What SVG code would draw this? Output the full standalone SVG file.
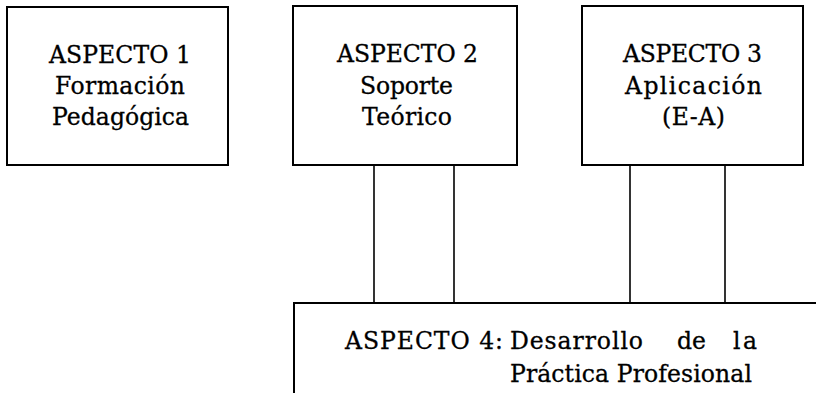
<svg xmlns="http://www.w3.org/2000/svg" width="816" height="393" viewBox="0 0 816 393">
<style>
.box{fill:#fff;stroke:#000;stroke-width:2}
.t{font-family:"DejaVu Serif","Liberation Serif",serif;font-size:23.5px;fill:#000;stroke:#000;stroke-width:0.3;text-anchor:middle}
.l{font-family:"DejaVu Serif","Liberation Serif",serif;font-size:23.5px;fill:#000;stroke:#000;stroke-width:0.3}
.c{stroke:#000;stroke-width:1.6;fill:none}
</style>
<rect width="816" height="393" fill="#fff"/>
<g id="connectors">
<line class="c" x1="374" y1="165" x2="374" y2="303"/>
<line class="c" x1="454" y1="165" x2="454" y2="303"/>
<line class="c" x1="630" y1="165" x2="630" y2="303"/>
<line class="c" x1="725" y1="165" x2="725" y2="303"/>
</g>
<g id="aspecto1">
<rect class="box" x="7" y="7" width="221" height="158"/>
<text class="t" x="120" y="63" textLength="142" lengthAdjust="spacing">ASPECTO 1</text>
<text class="t" x="120" y="94" textLength="130" lengthAdjust="spacing">Formación</text>
<text class="t" x="120.5" y="125" textLength="137" lengthAdjust="spacing">Pedagógica</text>
</g>
<g id="aspecto2">
<rect class="box" x="293" y="6" width="224" height="159"/>
<text class="t" x="407.5" y="62" textLength="141" lengthAdjust="spacing">ASPECTO 2</text>
<text class="t" x="406.5" y="94" textLength="93" lengthAdjust="spacing">Soporte</text>
<text class="t" x="407" y="125" textLength="90" lengthAdjust="spacing">Teórico</text>
</g>
<g id="aspecto3">
<rect class="box" x="582" y="6" width="221" height="159"/>
<text class="t" x="692.5" y="62" textLength="139" lengthAdjust="spacing">ASPECTO 3</text>
<text class="t" x="693.5" y="94" textLength="137" lengthAdjust="spacing">Aplicación</text>
<text class="t" x="693.5" y="125" textLength="63" lengthAdjust="spacing">(E-A)</text>
</g>
<g id="aspecto4">
<rect class="box" x="294" y="303" width="600" height="200"/>
<text class="l" x="345" y="349" textLength="158" lengthAdjust="spacing">ASPECTO 4:</text>
<text class="l" x="510" y="349" textLength="133" lengthAdjust="spacing">Desarrollo</text>
<text class="l" x="677" y="349" textLength="29" lengthAdjust="spacing">de</text>
<text class="l" x="733" y="349" textLength="24" lengthAdjust="spacing">la</text>
<text class="l" x="510" y="382" textLength="242" lengthAdjust="spacing">Práctica Profesional</text>
</g>
</svg>
